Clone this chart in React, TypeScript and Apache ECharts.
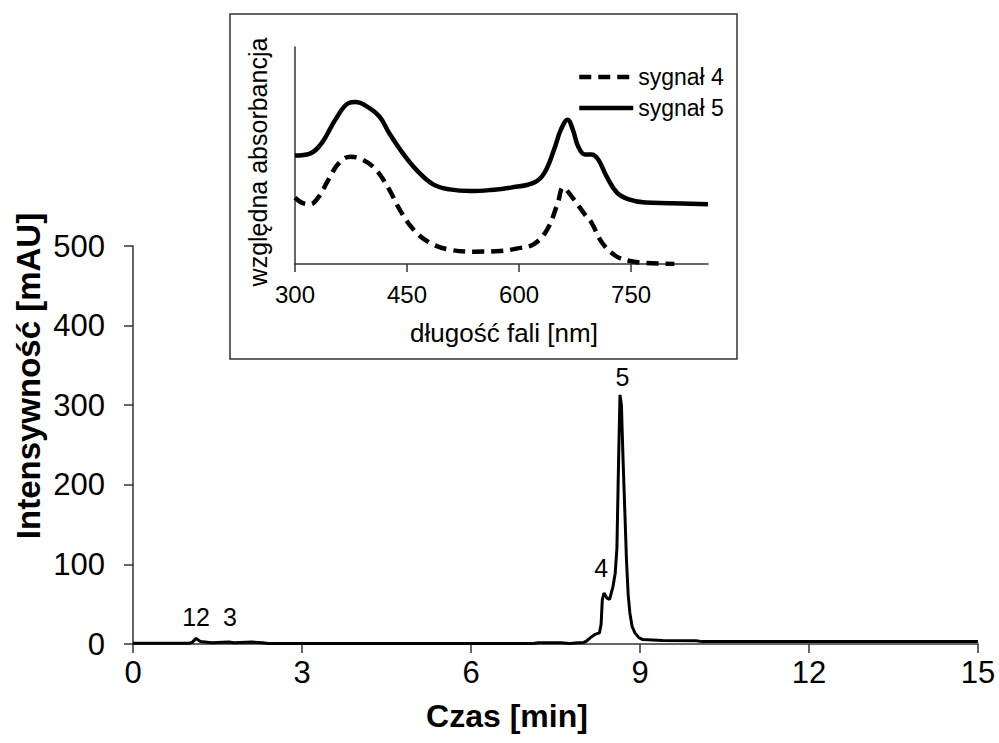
import React, { useEffect, useRef } from "react";
import * as echarts from "echarts";

// Main chromatogram: [time (min), intensity (mAU)]
const chromTime = [0, 0.5, 1.0, 1.05, 1.12, 1.2, 1.4, 1.7, 1.8, 2.1, 2.3, 2.4, 4.0, 7.1, 7.2, 7.6, 7.75, 7.9, 8.0, 8.05, 8.12, 8.2, 8.28, 8.31, 8.33, 8.36, 8.41, 8.46, 8.52, 8.56, 8.59, 8.62, 8.645, 8.67, 8.7, 8.73, 8.76, 8.79, 8.82, 8.86, 8.91, 8.98, 9.05, 9.4, 10.0, 10.1, 15];
const chromValue = [0.8, 1, 1, 2, 7, 3, 1.5, 2.5, 1.5, 2.5, 1.5, 0.5, 0.5, 0.5, 1.5, 1.5, 0.5, 1.5, 2, 3.5, 8, 12, 14, 25, 55, 64, 58, 56, 72, 89, 120, 231, 313, 300, 230, 168, 105, 62, 39, 22, 14, 8, 5.5, 4.5, 4, 3, 3];

// Peak labels
const peakLabels = ["12", "3", "4", "5"];
const peakLabelTime = [1.12, 1.72, 8.31, 8.69];
const peakLabelValue = [34, 34, 95, 336];

// Inset spectra: wavelength (nm), relative absorbance
const s5Wave = [300, 320, 336, 354, 372, 381, 395, 413, 426, 444, 462, 485, 507, 535, 562, 589, 620, 634, 647, 656, 665, 672, 679, 688, 697, 706, 717, 731, 747, 769, 801, 853];
const s5Abs = [0.5, 0.509, 0.558, 0.665, 0.742, 0.746, 0.729, 0.68, 0.604, 0.512, 0.436, 0.367, 0.344, 0.336, 0.341, 0.352, 0.375, 0.42, 0.528, 0.619, 0.665, 0.619, 0.543, 0.505, 0.505, 0.482, 0.405, 0.329, 0.298, 0.283, 0.28, 0.275];
const s4Wave = [300, 309, 320, 331, 345, 359, 374, 390, 408, 426, 440, 458, 480, 507, 539, 575, 598, 620, 638, 652, 659, 670, 688, 697, 711, 729, 747, 769, 808];
const s4Abs = [0.306, 0.283, 0.275, 0.306, 0.39, 0.466, 0.494, 0.482, 0.436, 0.344, 0.252, 0.161, 0.099, 0.066, 0.057, 0.06, 0.072, 0.092, 0.161, 0.283, 0.352, 0.313, 0.229, 0.191, 0.099, 0.038, 0.015, 0.005, 0.0];

const mainXTicks = [0, 3, 6, 9, 12, 15];
const insetXTicks = [300, 450, 600, 750];

const FONT = '"Liberation Sans", Arial, sans-serif';

export default function App() {
  const ref = useRef<HTMLDivElement>(null);
  useEffect(() => {
    if (!ref.current) return;
    const chart = echarts.init(ref.current, null, { renderer: "svg" });
    const zip = (a: number[], b: number[]) => a.map((v, i) => [v, b[i]]);
    const axisLineStyle = { color: "#333", width: 1.5 };
    chart.setOption({
      animation: false,
      backgroundColor: "#fff",
      textStyle: { fontFamily: FONT },
      grid: [
        { left: 133, top: 246, width: 845, height: 398 },
        { left: 295, top: 47, width: 413, height: 217 },
      ],
      xAxis: [
        {
          gridIndex: 0,
          type: "value",
          min: 0,
          max: 15,
          interval: 3,
          splitLine: { show: false },
          axisLine: { lineStyle: axisLineStyle },
          axisTick: { show: true, length: 9, lineStyle: axisLineStyle, customValues: mainXTicks },
          axisLabel: { fontSize: 31, color: "#000", margin: 13, fontFamily: FONT, customValues: mainXTicks },
        },
        {
          gridIndex: 1,
          type: "value",
          min: 300,
          max: 853,
          splitLine: { show: false },
          axisLine: { lineStyle: axisLineStyle },
          axisTick: { show: true, length: 8, lineStyle: axisLineStyle, customValues: insetXTicks },
          axisLabel: { fontSize: 24, color: "#000", margin: 18, fontFamily: FONT, customValues: insetXTicks },
        },
      ],
      yAxis: [
        {
          gridIndex: 0,
          type: "value",
          min: 0,
          max: 500,
          interval: 100,
          splitLine: { show: false },
          axisLine: { show: true, lineStyle: axisLineStyle },
          axisTick: { show: true, length: 9, lineStyle: axisLineStyle },
          axisLabel: { fontSize: 31, color: "#000", margin: 28, fontFamily: FONT },
        },
        {
          gridIndex: 1,
          type: "value",
          min: 0,
          max: 1,
          splitLine: { show: false },
          axisLine: { show: true, lineStyle: axisLineStyle },
          axisTick: { show: false },
          axisLabel: { show: false },
        },
      ],
      legend: {
        left: 572,
        top: 59,
        orient: "vertical",
        itemWidth: 54,
        itemHeight: 14,
        itemGap: 5,
        data: ["sygnał 4", "sygnał 5"],
        itemStyle: { opacity: 0 },
        lineStyle: { width: 4.5 },
        textStyle: { fontSize: 23, color: "#000", lineHeight: 26, fontFamily: FONT },
      },
      series: [
        {
          type: "line",
          name: "chromatogram",
          xAxisIndex: 0,
          yAxisIndex: 0,
          data: zip(chromTime, chromValue),
          symbol: "none",
          lineStyle: { color: "#000", width: 3 },
          itemStyle: { color: "#000" },
        },
        {
          type: "scatter",
          name: "labels",
          xAxisIndex: 0,
          yAxisIndex: 0,
          symbolSize: 1,
          itemStyle: { color: "rgba(0,0,0,0)", opacity: 1 },
          data: peakLabels.map((t, i) => ({ value: [peakLabelTime[i], peakLabelValue[i]], name: t })),
          label: {
            show: true,
            position: "inside",
            formatter: (p: any) => p.name,
            fontSize: 25,
            color: "#000",
            fontFamily: FONT,
          },
        },
        {
          type: "line",
          name: "sygnał 4",
          xAxisIndex: 1,
          yAxisIndex: 1,
          data: zip(s4Wave, s4Abs),
          symbol: "none",
          smooth: 0.4,
          lineStyle: { color: "#000", width: 4.5, type: [12, 7] },
          itemStyle: { color: "#000" },
        },
        {
          type: "line",
          name: "sygnał 5",
          xAxisIndex: 1,
          yAxisIndex: 1,
          data: zip(s5Wave, s5Abs),
          symbol: "none",
          smooth: 0.4,
          lineStyle: { color: "#000", width: 4.5 },
          itemStyle: { color: "#000" },
        },
      ],
      graphic: [
        {
          type: "rect",
          shape: { x: 230, y: 14, width: 507, height: 345 },
          style: { fill: "none", stroke: "#333", lineWidth: 1.5 },
          silent: true,
        },
        {
          type: "text",
          x: 507,
          y: 716,
          style: { text: "Czas [min]", fontSize: 32, fontWeight: "bold", fontFamily: FONT, fill: "#000", align: "center", verticalAlign: "middle" },
        },
        {
          type: "text",
          x: 28,
          y: 376,
          rotation: Math.PI / 2,
          style: { text: "Intensywność [mAU]", fontSize: 33, fontWeight: "bold", fontFamily: FONT, fill: "#000", align: "center", verticalAlign: "middle" },
        },
        {
          type: "text",
          x: 504,
          y: 333,
          style: { text: "długość fali [nm]", fontSize: 26, fontFamily: FONT, fill: "#000", align: "center", verticalAlign: "middle" },
        },
        {
          type: "text",
          x: 258,
          y: 162,
          rotation: Math.PI / 2,
          style: { text: "względna absorbancja", fontSize: 25, fontFamily: FONT, fill: "#000", align: "center", verticalAlign: "middle" },
        },
      ],
    });
    return () => chart.dispose();
  }, []);
  return <div ref={ref} style={{ position: "absolute", left: 0, top: 0, width: 999, height: 743 }} />;
}
